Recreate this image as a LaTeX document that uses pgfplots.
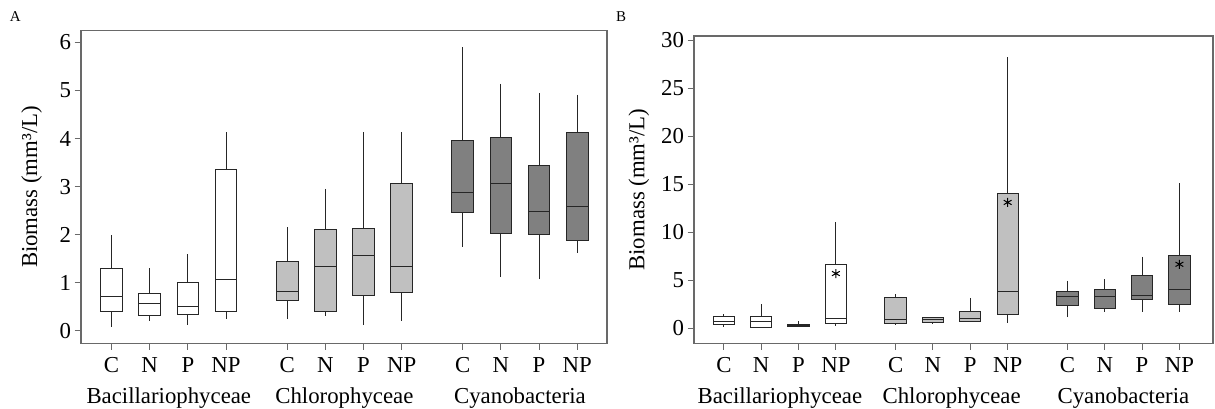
\documentclass[border=0pt]{standalone}
\usepackage{fontspec}
\setmainfont{Liberation Serif}
\usepackage{pgfplots}
\pgfplotsset{compat=1.18}
\usepgfplotslibrary{statistics}

\definecolor{lightbox}{RGB}{192,192,192}
\definecolor{darkbox}{RGB}{128,128,128}
\definecolor{framegray}{RGB}{105,105,105}
\definecolor{edge}{RGB}{38,38,38}

\newcommand{\bigfont}{\fontsize{22.8}{27}\selectfont}

% one box: style, position, low whisker, Q1, median, Q3, high whisker
\newcommand{\bx}[7]{%
  \addplot[#1, draw=edge, line width=1pt, solid,
    boxplot/draw direction=y,
    boxplot prepared={draw position=#2, lower whisker=#3, lower quartile=#4,
      median=#5, upper quartile=#6, upper whisker=#7,
      box extend=0.57, whisker extend=0}] coordinates {};}

\tikzset{grp/.style={anchor=base, font=\bigfont}}

\pgfplotsset{
  panel/.style={
    scale only axis,
    anchor=south west,
    axis line style={framegray, line width=1.3pt},
    xmin=-0.8, xmax=12.98,
    xtick={0,1,2,3,4.6,5.6,6.6,7.6,9.2,10.2,11.2,12.2},
    xticklabels={C,N,P,NP,C,N,P,NP,C,N,P,NP},
    tick align=outside, tick pos=left,
    major tick length=6.5pt,
    tick style={framegray, line width=1pt},
    ticklabel style={font=\bigfont},
    xticklabel style={anchor=base, yshift=-22.5pt},
    /pgf/number format/assume math mode=true,
    label style={font=\bigfont},
    ylabel={Biomass (mm³/L)},
    clip=false,
  },
}

\begin{document}
\begin{tikzpicture}
\useasboundingbox (0,0) rectangle (1215pt,409pt);
\node[font=\fontsize{15}{17}\selectfont] at (15.3pt,392.5pt) {A};
\node[font=\fontsize{15}{17}\selectfont] at (621pt,392.5pt) {B};

% panel A
\begin{axis}[panel, at={(81pt,65.7pt)}, width=526pt, height=312.6pt,
  ymin=-0.256, ymax=6.241, ytick={0,1,2,3,4,5,6},
  ylabel style={at={(axis description cs:-0.094,0.5)}, anchor=center}]
\bx{fill=white}{0}{0.08}{0.41}{0.71}{1.29}{1.99}
\bx{fill=white}{1}{0.21}{0.32}{0.58}{0.78}{1.30}
\bx{fill=white}{2}{0.12}{0.34}{0.51}{1.01}{1.59}
\bx{fill=white}{3}{0.24}{0.41}{1.08}{3.36}{4.14}
\bx{fill=lightbox}{4.6}{0.24}{0.64}{0.82}{1.45}{2.16}
\bx{fill=lightbox}{5.6}{0.32}{0.41}{1.33}{2.11}{2.96}
\bx{fill=lightbox}{6.6}{0.12}{0.73}{1.56}{2.13}{4.14}
\bx{fill=lightbox}{7.6}{0.21}{0.80}{1.33}{3.06}{4.14}
\bx{fill=darkbox}{9.2}{1.75}{2.46}{2.88}{3.96}{5.90}
\bx{fill=darkbox}{10.2}{1.12}{2.02}{3.06}{4.03}{5.14}
\bx{fill=darkbox}{11.2}{1.07}{2.00}{2.49}{3.43}{4.95}
\bx{fill=darkbox}{12.2}{1.63}{1.89}{2.59}{4.12}{4.91}
\node[grp] at (axis cs:1.5,-0.256) [yshift=-60pt] {Bacillariophyceae};
\node[grp] at (axis cs:6.1,-0.256) [yshift=-60pt] {Chlorophyceae};
\node[grp] at (axis cs:10.7,-0.256) [yshift=-60pt] {Cyanobacteria};
\end{axis}

% panel B
\begin{axis}[panel, at={(694pt,65.7pt)}, width=519pt, height=307.3pt,
  xmax=13.1,
  ymin=-1.56, ymax=30.42, ytick={0,5,10,15,20,25,30},
  ylabel style={at={(axis description cs:-0.106,0.5)}, anchor=center}]
\bx{fill=white}{0}{0.10}{0.38}{0.76}{1.21}{1.46}
\bx{fill=white}{1}{0.05}{0.10}{0.69}{1.21}{2.50}
\bx{fill=white}{2}{0.14}{0.24}{0.31}{0.42}{0.73}
\bx{fill=white}{3}{0.21}{0.49}{1.07}{6.66}{11.10}
\bx{fill=lightbox}{4.6}{0.38}{0.55}{0.94}{3.19}{3.54}
\bx{fill=lightbox}{5.6}{0.45}{0.59}{0.87}{1.11}{1.15}
\bx{fill=lightbox}{6.6}{0.66}{0.73}{1.04}{1.77}{3.19}
\bx{fill=lightbox}{7.6}{0.59}{1.46}{3.85}{14.05}{28.20}
\bx{fill=darkbox}{9.2}{1.14}{2.36}{3.30}{3.88}{4.96}
\bx{fill=darkbox}{10.2}{1.73}{2.08}{3.30}{4.09}{5.10}
\bx{fill=darkbox}{11.2}{1.73}{2.95}{3.43}{5.48}{7.46}
\bx{fill=darkbox}{12.2}{1.73}{2.50}{3.99}{7.56}{15.09}
\addplot[only marks, mark=asterisk, mark size=4.5pt, line width=1pt, black]
  coordinates {(3,5.7) (7.6,13.1) (12.2,6.66)};
\node[grp] at (axis cs:1.5,-1.56) [yshift=-60pt] {Bacillariophyceae};
\node[grp] at (axis cs:6.1,-1.56) [yshift=-60pt] {Chlorophyceae};
\node[grp] at (axis cs:10.7,-1.56) [yshift=-60pt] {Cyanobacteria};
\end{axis}
\end{tikzpicture}
\end{document}
